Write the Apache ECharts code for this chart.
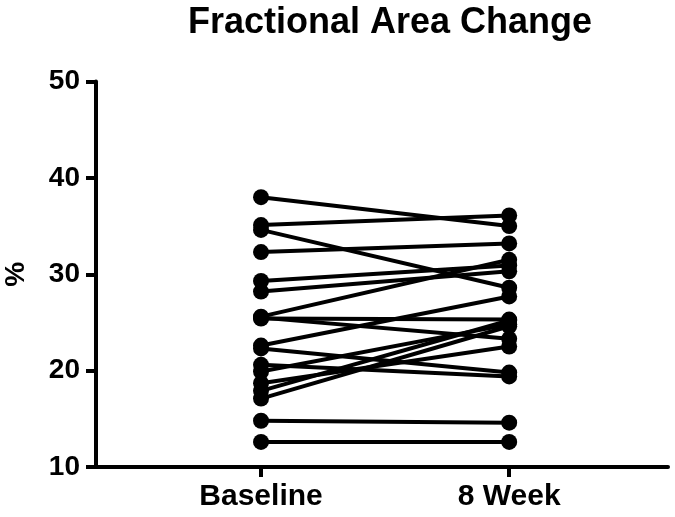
<!DOCTYPE html>
<html>
<head>
<meta charset="utf-8">
<script src="https://cdn.jsdelivr.net/npm/echarts@6/dist/echarts.min.js"></script>
<style>
  html, body { margin: 0; padding: 0; background: #fff; }
  #chart { width: 675px; height: 517px; }
</style>
</head>
<body>
<div id="chart"></div>
<script>
// Paired measurements: each subject at baseline and after 8 weeks
var timepoints = ['Baseline', '8 Week'];
var baseline = [38.0, 35.1, 34.6, 32.3, 29.3, 28.2, 25.6, 25.4, 25.5, 22.6, 22.3, 20.6, 19.9, 18.7, 17.9, 17.1, 14.8, 12.6];
var week8    = [35.0, 36.1, 28.6, 33.2, 30.9, 30.3, 31.5, 25.3, 23.3, 27.7, 19.8, 19.4, 24.8, 22.5, 25.2, 24.6, 14.6, 12.6];
var yTicks = [10, 20, 30, 40, 50];

var FONT = 'Liberation Sans, Arial, sans-serif';

var series = baseline.map(function (b, i) {
  return {
    type: 'line',
    data: [[1, b], [2, week8[i]]],
    symbol: 'circle',
    symbolSize: 16,
    lineStyle: { color: '#000', width: 4 },
    itemStyle: { color: '#000' },
    animation: false,
    silent: true
  };
});

var chart = echarts.init(document.getElementById('chart'), null, { renderer: 'canvas' });
chart.setOption({
  backgroundColor: '#fff',
  title: {
    text: 'Fractional Area Change',
    left: 385,
    textAlign: 'center',
    top: 0,
    textStyle: { fontFamily: FONT, fontWeight: 'bold', fontSize: 36, color: '#000' }
  },
  grid: { left: 96, right: 7, top: 81.5, bottom: 50, containLabel: false, outerBoundsMode: 'none' },
  xAxis: {
    type: 'value',
    min: 0.335,
    max: 2.64,
    splitLine: { show: false },
    axisLine: { show: true, lineStyle: { color: '#000', width: 4 } },
    axisTick: { show: true, length: 10, lineStyle: { color: '#000', width: 4 }, customValues: [1, 2] },
    axisLabel: {
      customValues: [1, 2],
      formatter: function (v) { return timepoints[Math.round(v) - 1]; },
      fontFamily: FONT, fontWeight: 'bold', fontSize: 30, color: '#000', margin: 15
    }
  },
  yAxis: {
    type: 'value',
    min: yTicks[0],
    max: yTicks[yTicks.length - 1],
    interval: 10,
    name: '%',
    nameLocation: 'middle',
    nameGap: 66,
    nameTextStyle: { fontFamily: FONT, fontWeight: 'bold', fontSize: 28, color: '#000' },
    splitLine: { show: false },
    axisLine: { show: true, lineStyle: { color: '#000', width: 4 } },
    axisTick: { show: true, length: 10, lineStyle: { color: '#000', width: 4 } },
    axisLabel: { fontFamily: FONT, fontWeight: 'bold', fontSize: 28, color: '#000', margin: 16 }
  },
  series: series
});
</script>
</body>
</html>
